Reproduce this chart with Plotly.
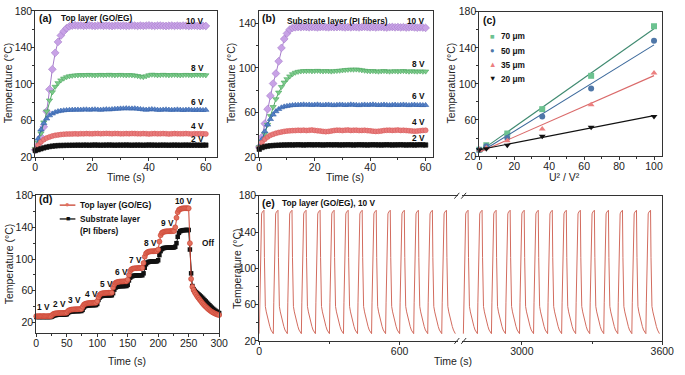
import numpy as np
import plotly.graph_objects as go

W, H = 685, 375
FONT = "Liberation Sans, Arial, sans-serif"

# ---------------- data ----------------
time_ab = list(range(61))

a_10V = [28, 34, 42, 53, 70, 94, 116, 134, 146, 153, 157.5, 161, 163, 163.8, 164.2,
         163.8, 164.0, 163.6, 163.9, 164.1, 163.7, 163.5, 163.8, 164.0, 163.6,
         163.9, 163.7, 163.4, 163.8, 164.0, 163.6, 163.9, 163.5, 163.7, 164.0,
         163.8, 163.5, 163.9, 163.6, 163.8, 164.1, 163.7, 163.5, 163.8, 163.9,
         163.6, 163.4, 163.7, 163.9, 163.5, 163.8, 163.6, 163.9, 163.7, 163.4,
         163.6, 163.8, 163.5, 163.3, 163.6, 163.4]
a_8V = [29, 36, 46, 58, 70, 82, 91, 97, 101, 104, 106, 107.5, 108.5, 109.0, 109.4, 109.6, 109.8,
        109.6, 109.9, 110.0, 109.7, 109.5, 109.8, 110.0, 109.7, 109.9, 110.1,
        109.8, 109.6, 109.9, 110.0, 109.7, 109.5, 109.8, 109.6, 109.3, 108.8,
        108.0, 107.6, 108.5, 109.6, 110.2, 110.0, 109.6, 109.8, 110.1, 109.9,
        109.6, 109.8, 110.0, 109.7, 109.5, 109.8, 110.0, 109.8, 109.6, 109.9,
        110.0, 109.7, 109.8, 109.6]
a_6V = [29, 40, 50, 57, 62, 65.5, 67.5, 69, 70, 70.6, 71, 71.3, 71.5, 71.6, 71.7,
        71.8, 71.6, 71.9, 72.0, 71.7, 71.9, 72.1, 71.8, 71.6, 71.9,
        72.2, 72.0, 72.3, 72.6, 72.8, 73.0, 73.1, 73.3, 73.1, 73.0,
        73.2, 72.8, 72.4, 72.0, 71.7, 72.0, 72.3, 72.0, 71.6, 71.5,
        71.8, 72.0, 71.7, 71.5, 71.7, 71.9, 71.6, 71.4, 71.6, 71.8,
        71.5, 71.4, 71.6, 71.5, 71.3, 71.5]
a_4V = [28, 33, 36.5, 39, 40.8, 42, 43, 43.7, 44.2, 44.6, 44.9, 45.1, 45.2,
        45.3, 45.4, 45.3, 45.5, 45.4, 45.6, 45.5, 45.4, 45.6, 45.7,
        45.5, 45.6, 45.8, 45.6, 45.5, 45.7, 45.6, 45.4, 45.5, 45.6,
        45.5, 45.7, 45.6, 45.5, 45.4, 45.6, 45.5, 45.3, 45.5, 45.6,
        45.4, 45.5, 45.6, 45.5, 45.3, 45.4, 45.6, 45.5, 45.4, 45.5,
        45.6, 45.4, 45.3, 45.5, 45.4, 45.5, 45.4, 45.3]
a_2V = [27, 28, 29, 30, 30.8, 31.4, 31.9, 32.2, 32.5, 32.6, 32.7,
        32.8, 32.8, 32.9, 32.9, 33.0, 32.9, 33.0, 33.0, 32.9, 33.0,
        33.1, 33.0, 32.9, 33.0, 33.0, 33.1, 33.0, 32.9, 33.0, 33.0,
        33.0, 33.1, 33.0, 32.9, 33.0, 33.0, 33.0, 32.9, 33.0, 33.1,
        33.0, 33.0, 32.9, 33.0, 33.0, 33.0, 32.9, 33.0, 33.0, 33.0,
        32.9, 33.0, 33.0, 33.0, 32.9, 33.0, 33.0, 32.9, 33.0, 33.0]

b_10V = [29, 38, 50, 63, 75, 86, 95, 106, 118, 126, 131, 134.5, 136, 136.5, 136.8,
         136.6, 136.9, 136.7, 136.5, 136.8, 136.6, 136.4, 136.7, 136.9, 136.6,
         136.5, 136.8, 136.6, 136.7, 136.9, 136.6, 136.4, 136.7, 136.5, 136.8,
         136.6, 136.4, 136.7, 136.9, 136.6, 136.5, 136.7, 136.4, 136.6, 136.8,
         136.5, 136.3, 136.6, 136.8, 136.5, 136.7, 136.4, 136.6, 136.3, 136.5,
         136.7, 136.4, 136.2, 136.5, 136.3, 136.0]
b_8V = [29, 34, 41, 49, 57, 65, 72, 78, 83, 87, 90, 92.5, 94.5, 95.8, 96.6, 97.0, 97.3,
        97.2, 97.4, 97.1, 97.3, 97.5, 97.2, 97.0, 97.3, 97.1, 96.9,
        97.2, 97.4, 97.6, 97.9, 98.2, 98.4, 98.6, 98.5, 98.7, 98.4,
        98.0, 97.6, 97.3, 97.1, 97.3, 97.0, 96.8, 97.1, 97.3, 97.0,
        96.8, 97.0, 97.2, 96.9, 97.1, 97.3, 97.0, 96.8, 97.1, 96.9,
        96.8, 97.0, 96.7, 96.9]
b_6V = [29, 36, 43, 49, 54, 58, 61, 63, 64.5, 65.3, 65.8, 66.2, 66.5, 66.7, 66.8,
        66.9, 67.1, 66.8, 67.0, 66.7, 66.9, 67.1, 66.8, 66.6, 66.9,
        67.0, 66.7, 66.5, 66.8, 67.0, 66.9, 66.6, 66.8, 67.1, 66.9,
        66.7, 66.5, 66.8, 67.0, 66.7, 66.9, 67.1, 66.8, 66.6, 66.8,
        67.0, 66.7, 66.5, 66.8, 66.9, 66.6, 66.8, 67.0, 66.7, 66.5,
        66.8, 66.9, 66.6, 66.7, 66.5, 66.6]
b_4V = [28, 33, 36, 38, 39.5, 40.5, 41.3, 42, 42.5, 43, 43.3, 43.5, 43.7, 43.8, 44,
        43.9, 44.1, 43.8, 44.0, 44.2, 43.9, 43.6, 43.3, 43.0, 42.8,
        43.0, 43.4, 43.8, 44.1, 44.0, 43.8, 44.1, 44.2, 43.9, 44.0,
        44.1, 43.8, 43.9, 44.0, 43.7, 43.5, 43.2, 43.0, 43.1, 43.4,
        43.8, 44.0, 44.1, 43.9, 44.0, 44.2, 43.9, 44.0, 43.8, 43.6,
        43.4, 43.2, 43.3, 43.6, 43.9, 44.0]
b_2V = [27, 28.5, 29.3, 29.8, 30.1, 30.3, 30.5, 30.6, 30.7, 30.8, 30.8,
        30.9, 30.8, 30.9, 31.0, 30.9, 30.8, 30.9, 31.0, 30.9, 30.9,
        31.0, 30.9, 30.8, 30.9, 31.0, 30.9, 30.9, 31.0, 30.8, 30.9,
        30.9, 31.0, 30.9, 30.8, 30.9, 31.0, 30.9, 30.9, 30.8, 30.9,
        31.0, 30.9, 30.9, 30.8, 30.9, 31.0, 30.9, 30.8, 30.9, 30.9,
        31.0, 30.9, 30.8, 30.9, 30.9, 30.8, 30.9, 31.0, 30.9, 30.8]

c_u2 = [0, 4, 16, 36, 64, 100]
c_70um = [27, 32, 45, 72, 109, 164]
c_50um = [27, 31, 40, 64, 95, 148]
c_35um = [27, 29, 37, 50, 77, 112]
c_20um = [27, 28, 32, 42, 52, 64]

d_time = list(range(0, 301, 2))
d_top = [28.0, 27.8, 28.0, 28.1, 27.9, 28.0, 28.1, 28.0, 27.9, 28.0, 28.1, 28.0, 28.0,
         29.5, 30.8, 31.3, 31.6, 31.8, 31.9, 32.0, 32.1, 32.0, 32.2, 32.1, 32.2,
         32.5, 34.5, 35.5, 36.0, 36.3, 36.5, 36.6, 36.7, 36.8, 36.8, 36.9, 37.0, 37.0,
         40.0, 42.5, 43.5, 44.0, 44.3, 44.5, 44.6, 44.7, 44.8, 44.8, 44.9, 45.0,
         47.0, 52.0, 55.0, 56.2, 56.8, 57.0, 57.2, 57.3, 57.4, 57.5, 57.5, 57.6, 57.6,
         64.0, 68.0, 70.0, 70.8, 71.2, 71.5, 71.6, 71.7, 71.8, 71.9, 72.0, 72.0,
         74.0, 80.0, 85.0, 87.0, 87.8, 88.2, 88.4, 88.5, 88.6, 88.7, 88.8, 88.8, 88.9,
         95.0, 103.0, 107.0, 108.5, 109.2, 109.5, 109.7, 109.8, 109.9, 110.0, 110.0, 110.1,
         112.0, 122.0, 130.0, 133.0, 134.0, 134.5, 134.8, 135.0, 135.0, 135.1, 135.2, 135.2, 135.3, 135.3,
         140.0, 152.0, 159.0, 162.0, 163.0, 163.5, 163.8, 164.0, 164.0, 164.1, 164.0, 164.0,
         120.0, 75.0, 65.0, 61.0, 58.0, 55.5, 53.0, 51.0, 49.0, 47.0, 45.0, 43.2, 41.5,
         40.0, 38.5, 37.0, 35.8, 34.6, 33.5, 32.6, 31.8, 31.0, 30.4, 29.9, 29.5]
d_sub = [27.0, 27.1, 27.0, 27.0, 27.1, 27.0, 27.0, 27.1, 27.0, 27.0, 27.1, 27.0, 27.0,
         27.5, 28.5, 29.2, 29.5, 29.7, 29.8, 29.9, 30.0, 30.0, 30.1, 30.1, 30.1,
         30.5, 32.0, 33.2, 33.8, 34.0, 34.2, 34.3, 34.4, 34.4, 34.5, 34.5, 34.6, 34.6,
         36.0, 39.0, 40.5, 41.2, 41.5, 41.7, 41.8, 41.9, 42.0, 42.0, 42.0, 42.1,
         43.5, 48.5, 51.5, 53.0, 53.5, 53.8, 54.0, 54.1, 54.2, 54.2, 54.3, 54.3, 54.4,
         57.0, 61.5, 64.0, 65.0, 65.5, 65.7, 65.8, 65.9, 66.0, 66.0, 66.1, 66.1,
         67.5, 73.0, 76.5, 78.0, 78.6, 79.0, 79.2, 79.3, 79.4, 79.5, 79.5, 79.6, 79.6,
         82.0, 89.0, 93.5, 95.5, 96.3, 96.7, 96.9, 97.0, 97.0, 97.1, 97.1, 97.2,
         98.5, 105.0, 110.0, 112.5, 113.5, 114.0, 114.2, 114.3, 114.4, 114.5, 114.5, 114.5, 114.6, 114.6,
         115.5, 120.0, 128.0, 133.0, 135.0, 135.8, 136.2, 136.4, 136.5, 136.6, 136.6, 136.6,
         112.0, 82.0, 66.0, 62.0, 60.0, 58.4, 57.0, 55.6, 54.2, 52.8, 51.3, 49.8, 48.2,
         46.6, 45.0, 43.4, 41.8, 40.2, 38.7, 37.3, 36.0, 34.8, 33.7, 32.7, 31.9]

# one heating/cooling cycle of panel (e)
e_cycle_offset = [0, 2, 4, 6, 8, 10, 13, 16, 19, 20, 22, 24, 26, 30, 35, 40, 45, 50, 55, 58]
e_cycle_temp = [28, 62, 98, 128, 150, 160, 162, 163, 164, 164, 112, 62, 58, 52, 46, 41, 36, 32, 29, 28]
e_starts_seg1 = [0, 60, 120, 180, 240, 300, 360, 420, 480, 540, 600, 660, 720, 780]
e_starts_seg2 = [2750, 2810, 2870, 2930, 2990, 3050, 3110, 3170, 3230, 3290, 3350, 3410, 3470, 3530]

for arr in (a_10V, a_8V, a_6V, a_4V, a_2V, b_10V, b_8V, b_6V, b_4V, b_2V):
    assert len(arr) == 61, len(arr)
assert len(d_top) == len(d_time) and len(d_sub) == len(d_time), (len(d_top), len(d_sub))


def cycles(starts):
    t, y = [], []
    for s in starts:
        t += [s + o for o in e_cycle_offset]
        y += e_cycle_temp
    return t, y


# ---------------- helpers ----------------
def X(px):
    return px / W


def Y(py):
    return 1 - py / H


fig = go.Figure()

COL = dict(v10="#c8a2e6", v10l="#a57cca", v8="#7ccb8b", v8l="#4fa862",
           v6="#5580c6", v6l="#3462aa", v4="#e87c7c", v4l="#d85a5a",
           v2="#111111", v2l="#111111")

series_ab = [("v10", "diamond", 6), ("v8", "triangle-down", 5.5), ("v6", "triangle-up", 5.5),
             ("v4", "circle", 5), ("v2", "square", 4.5)]

for xa, ya, arrs in (("x", "y", [a_10V, a_8V, a_6V, a_4V, a_2V]),
                     ("x2", "y2", [b_10V, b_8V, b_6V, b_4V, b_2V])):
    for (key, sym, sz), vals in zip(series_ab, arrs):
        fig.add_trace(go.Scatter(
            x=time_ab, y=vals, xaxis=xa, yaxis=ya, mode="lines+markers",
            line=dict(color=COL[key + "l"], width=1),
            marker=dict(symbol=sym, size=sz, color=COL[key], line=dict(color=COL[key + "l"], width=0.6)),
            cliponaxis=False, showlegend=False))

# panel (c)
c_series = [(c_70um, "square", "#6cc290", "#3f8a70"),
            (c_50um, "circle", "#4f77a8", "#3d6a9c"),
            (c_35um, "triangle-up", "#ec7f7f", "#da6a6a"),
            (c_20um, "triangle-down", "#111111", "#111111")]
xfit = np.array([0, 100])
for vals, sym, mc, lc in c_series:
    k, b = np.polyfit(c_u2, vals, 1)
    fig.add_trace(go.Scatter(x=xfit, y=k * xfit + b, xaxis="x3", yaxis="y3", mode="lines",
                             line=dict(color=lc, width=1.1), showlegend=False, cliponaxis=False))
    fig.add_trace(go.Scatter(x=c_u2, y=vals, xaxis="x3", yaxis="y3", mode="markers",
                             marker=dict(symbol=sym, size=6, color=mc), showlegend=False,
                             cliponaxis=False))

# panel (d)
fig.add_trace(go.Scatter(x=d_time, y=d_sub, xaxis="x4", yaxis="y4", mode="lines+markers",
                         line=dict(color="#111", width=1),
                         marker=dict(symbol="square", size=4.5, color="#111"),
                         showlegend=False, cliponaxis=False))
fig.add_trace(go.Scatter(x=d_time, y=d_top, xaxis="x4", yaxis="y4", mode="lines+markers",
                         line=dict(color="#c8402f", width=1),
                         marker=dict(symbol="circle", size=5, color="#e3705e",
                                     line=dict(color="#c8402f", width=0.6)),
                         showlegend=False, cliponaxis=False))

# panel (e)
t1, y1 = cycles(e_starts_seg1)
t2, y2 = cycles(e_starts_seg2)
fig.add_trace(go.Scatter(x=t1, y=y1, xaxis="x5", yaxis="y5", mode="lines",
                         line=dict(color="#d26c5f", width=1), showlegend=False))
fig.add_trace(go.Scatter(x=t2, y=y2, xaxis="x6", yaxis="y6", mode="lines",
                         line=dict(color="#d26c5f", width=1), showlegend=False))

# ---------------- axes ----------------
TICKFONT = dict(family=FONT, size=10.5, color="#222")


def ax(domain, rng, tickvals, minor_dtick, anchor, mirror=True, standoff=-3, **kw):
    d = dict(domain=domain, range=rng, tickmode="array", tickvals=tickvals,
             showline=True, linecolor="#333", linewidth=1, mirror=mirror,
             ticks="outside", ticklen=3, tickwidth=1, tickcolor="#333",
             showgrid=False, zeroline=False, tickfont=TICKFONT, anchor=anchor,
             ticklabelstandoff=standoff)
    if minor_dtick:
        d["minor"] = dict(tickmode="linear", tick0=0, dtick=minor_dtick, ticks="outside",
                          ticklen=2, tickcolor="#333", showgrid=False)
    d.update(kw)
    return d


yd_ab = [Y(156), Y(5)]
layout = dict(
    width=W, height=H, margin=dict(l=0, r=0, t=0, b=0),
    paper_bgcolor="white", plot_bgcolor="white", showlegend=False,
    font=dict(family=FONT, color="#222"),
    xaxis=ax([X(33), X(219)], [0, 64], [0, 20, 40, 60], 10, "y"),
    yaxis=ax(yd_ab, [20, 180], [20, 60, 100, 140, 180], 20, "x"),
    xaxis2=ax([X(262), X(440)], [0, 62.8], [0, 20, 40, 60], 10, "y2"),
    yaxis2=ax(yd_ab, [20, 151.3], [20, 60, 100, 140], 20, "x2"),
    xaxis3=ax([X(487), X(674)], [0, 104.7], [0, 20, 40, 60, 80, 100], 10, "y3"),
    yaxis3=ax([Y(155), Y(6)], [20, 180], [20, 60, 100, 140, 180], 20, "x3"),
    xaxis4=ax([X(34), X(221)], [0, 300], [0, 50, 100, 150, 200, 250, 300], 25, "y4"),
    yaxis4=ax([Y(338), Y(195)], [6.6, 181], [20, 60, 100, 140, 180], 20, "x4"),
    xaxis5=ax([X(262), X(465)], [0, 848.7], [0, 600], 300, "y5"),
    yaxis5=ax([Y(346), Y(196)], [20, 180], [20, 60, 100, 140, 180], 20, "x5", mirror=False),
    xaxis6=ax([X(469), X(674)], [2743, 3600], [3000, 3600], 300, "y6"),
    yaxis6=dict(domain=[Y(346), Y(196)], range=[20, 180], anchor="x6", side="right",
                showline=True, linecolor="#333", linewidth=1, ticks="", showticklabels=False,
                showgrid=False, zeroline=False),
)
fig.update_layout(**layout)

# ---------------- text ----------------
anns = []


def ann(text, x, y, size=8.3, bold=True, xanchor="left", color="#111", angle=0):
    anns.append(dict(text=f"<b>{text}</b>" if bold else text, x=X(x), y=Y(y),
                     xref="paper", yref="paper", xanchor=xanchor, yanchor="middle",
                     showarrow=False, textangle=angle,
                     font=dict(family=FONT, size=size, color=color)))


# axis titles
for x, y in ((6, 79), (234, 79), (459, 79), (7, 266), (240, 271)):
    ann("Temperature (°C)", x, y, size=10.5, bold=False, xanchor="center", color="#222", angle=-90)
ann("Time (s)", 126, 177, size=10.5, bold=False, xanchor="center", color="#222")
ann("Time (s)", 350, 177, size=10.5, bold=False, xanchor="center", color="#222")
ann("U² / V²", 574, 177, size=10.5, bold=False, xanchor="center", color="#222")
ann("Time (s)", 127, 367, size=10.5, bold=False, xanchor="center", color="#222")
ann("Time (s)", 460, 367, size=10.5, bold=False, xanchor="center", color="#222")

# panel (a)
ann("(a)", 35, 12, size=10.5)
ann("Top layer (GO/EG)", 57, 12)
for t, y in (("10 V", 15), ("8 V", 64), ("6 V", 99), ("4 V", 124), ("2 V", 137)):
    ann(t, 208, y, xanchor="right")
# panel (b)
ann("(b)", 263, 12, size=10.5)
ann("Substrate layer (PI fibers)", 288, 15)
for t, y in (("10 V", 15), ("8 V", 60), ("6 V", 93), ("4 V", 120), ("2 V", 136)):
    ann(t, 433, y, xanchor="right")
# panel (c)
ann("(c)", 489, 14, size=10.5)
for (lab, y), (vals, sym, mc, lc), ch in zip(
        (("70 μm", 31.5), ("50 μm", 46), ("35 μm", 60.5), ("20 μm", 75)),
        c_series, ("■", "●", "▲", "▼")):
    ann(ch, 500, y, size=7.5, bold=False, xanchor="center", color=mc)
    ann(lab, 507, y)
# panel (d)
ann("(d)", 35, 199, size=10.5)
ann("●", 66, 205.5, size=7.5, bold=False, xanchor="center", color="#e3705e")
ann("■", 66, 220, size=7, bold=False, xanchor="center", color="#111")
ann("Top layer (GO/EG)", 77, 206)
ann("Substrate layer", 77, 220)
ann("(PI fibers)", 77, 232)
for t, x, y in (("1 V", 41.5, 311), ("2 V", 57.5, 308), ("3 V", 73.5, 304), ("4 V", 90, 297.5),
                ("5 V", 106, 287), ("6 V", 121.5, 275), ("7 V", 135.5, 262), ("8 V", 151, 244.5),
                ("9 V", 168.5, 224), ("10 V", 185, 201), ("Off", 209.5, 245)):
    ann(t, x, y, xanchor="center")
# panel (e)
ann("(e)", 263, 203, size=10.5)
ann("Top layer (GO/EG), 10 V", 283, 204)

shapes = [
    dict(type="line", xref="paper", yref="paper", x0=X(58), x1=X(74), y0=Y(205.7), y1=Y(205.7),
         line=dict(color="#c8402f", width=1.3)),
    dict(type="line", xref="paper", yref="paper", x0=X(58), x1=X(74), y0=Y(220), y1=Y(220),
         line=dict(color="#111", width=1.3)),
]
for yb in (196, 346):
    for xb in (461.5, 468.5):
        shapes.append(dict(type="line", xref="paper", yref="paper",
                           x0=X(xb), x1=X(xb + 5), y0=Y(yb + 3), y1=Y(yb - 3),
                           line=dict(color="#333", width=1)))

fig.update_layout(annotations=anns, shapes=shapes)
fig.write_html("out.html", config={"displayModeBar": False},
               post_script="document.body.style.margin='0px';")
